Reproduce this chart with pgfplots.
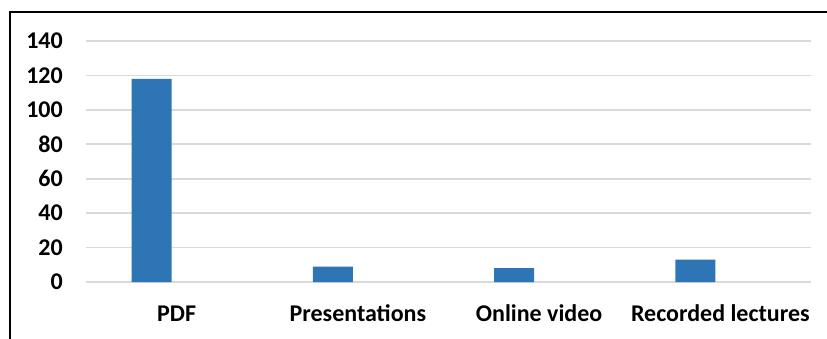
\documentclass[border=0pt]{standalone}
\usepackage{pgfplots}
\pgfplotsset{compat=1.18}
\usepackage{fontspec}
\setmainfont{Carlito}
\definecolor{barblue}{HTML}{2E75B6}
\definecolor{gridgray}{HTML}{D9D9D9}
\begin{document}
\begin{tikzpicture}[x=1pt,y=1pt]
\useasboundingbox (0,0) rectangle (827,338);
\draw[line width=2.2pt] (10,-2) -- (10,326) -- (829,326);
\begin{axis}[
  at={(86pt,56pt)}, anchor=south west,
  scale only axis, width=725pt, height=241pt,
  xmin=-0.5, xmax=3.5, ymin=0, ymax=140,
  ytick={0,20,...,140},
  xtick={0,1,2,3},
  xticklabels={PDF,Presentations,Online video,Recorded lectures},
  axis line style={draw=none},
  major tick length=0pt,
  ymajorgrids, grid style={gridgray, line width=1.6pt},
  /pgf/number format/assume math mode=true,
  ticklabel style={font=\fontsize{24}{27}\selectfont\bfseries, inner sep=0pt},
  yticklabel style={anchor=east, xshift=-23pt},
  xticklabel style={anchor=base, yshift=-39pt},
  clip=false,
]
\addplot[ybar, bar width=40pt, bar shift=-25pt, fill=barblue, draw=none] coordinates {(0,118) (1,9) (2,8) (3,13)};
\end{axis}
\end{tikzpicture}
\end{document}
